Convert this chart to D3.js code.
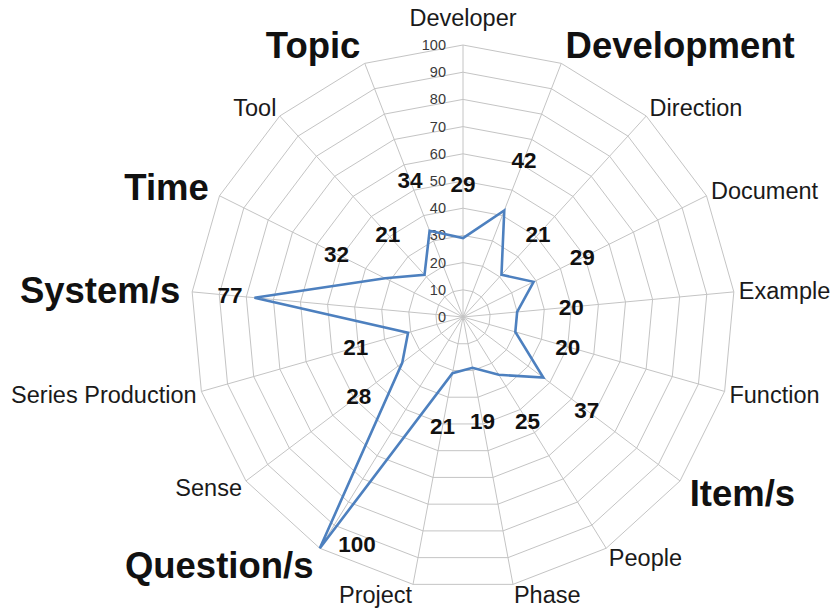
<!DOCTYPE html>
<html>
<head>
<meta charset="utf-8">
<script src="https://cdn.jsdelivr.net/npm/d3@7"></script>
<style>
  body { margin: 0; background: #fff; }
  svg { display: block; font-family: "Liberation Sans", Arial, sans-serif; }
  .grid { fill: none; stroke: #c4c4c4; stroke-width: 1; }
  .spoke { stroke: #c4c4c4; stroke-width: 1; }
  .tick-label { font-size: 14.5px; fill: #3a3a3a; }
  .cat { font-size: 23.5px; fill: #1a1a1a; }
  .cat.group { font-size: 36.5px; font-weight: bold; fill: #111; }
  .value-label { font-size: 22.5px; font-weight: bold; fill: #111; }
  .series { fill: none; stroke: #4d80bf; stroke-width: 2.6; stroke-linejoin: miter; }
</style>
</head>
<body>
<svg id="radar" width="836" height="609"></svg>
<script>
var categories = ["Developer", "Development", "Direction", "Document", "Example",
  "Function", "Item/s", "People", "Phase", "Project", "Question/s", "Sense",
  "Series Production", "System/s", "Time", "Tool", "Topic"];
var values = [29, 42, 21, 29, 20, 20, 37, 25, 19, 21, 100, 28, 21, 77, 32, 21, 34];
// categories written in the big bold type
var groupCategories = ["Development", "Item/s", "Question/s", "System/s", "Time", "Topic"];
var tickValues = [0, 10, 20, 30, 40, 50, 60, 70, 80, 90, 100];

(function() {
  var svg = d3.select("#radar"),
      cx = 463, cy = 317,
      radius = 272,
      n = categories.length;

  var r = d3.scaleLinear().domain([0, 100]).range([0, radius]);
  var angle = d3.scaleLinear().domain([0, n]).range([0, 2 * Math.PI]);

  var g = svg.append("g")
      .attr("transform", "translate(" + cx + "," + cy + ")");

  function px(i, v) { return Math.sin(angle(i)) * r(v); }
  function py(i, v) { return -Math.cos(angle(i)) * r(v); }

  // concentric polygons
  var ring = d3.lineRadial()
      .angle(function(d, i) { return angle(i); })
      .curve(d3.curveLinearClosed);

  g.selectAll(".grid")
    .data(tickValues.filter(function(t) { return t > 0; }))
    .enter().append("path")
      .attr("class", "grid")
      .attr("d", function(t) { return ring.radius(r(t))(categories); });

  g.selectAll(".spoke")
    .data(categories)
    .enter().append("line")
      .attr("class", "spoke")
      .attr("x1", 0).attr("y1", 0)
      .attr("x2", function(d, i) { return px(i, 100); })
      .attr("y2", function(d, i) { return py(i, 100); });

  // scale labels on the first axis
  g.selectAll(".tick-label")
    .data(tickValues)
    .enter().append("text")
      .attr("class", "tick-label")
      .attr("x", -17)
      .attr("y", function(t) { return -r(t); })
      .attr("dy", "0.35em")
      .attr("text-anchor", "end")
      .text(function(t) { return t; });

  // data series
  var line = d3.lineRadial()
      .angle(function(d, i) { return angle(i); })
      .radius(function(d) { return r(d); })
      .curve(d3.curveLinearClosed);

  g.append("path")
      .datum(values)
      .attr("class", "series")
      .attr("d", line);

  // value labels, set outwards from the vertex
  g.selectAll(".value-label")
    .data(values)
    .enter().append("text")
      .attr("class", "value-label")
      .attr("text-anchor", "middle")
      .attr("dy", "0.35em")
      .each(function(v, i) {
        var lv = v < 60 ? v + 20 : v + 9,
            a = angle(i);
        if (v >= 100) { lv = v - 8; a -= 0.117; } // nudge off the spike
        d3.select(this)
          .attr("x", Math.sin(a) * r(lv))
          .attr("y", -Math.cos(a) * r(lv));
      })
      .text(function(v) { return v; });

  // category labels
  g.selectAll(".cat")
    .data(categories)
    .enter().append("text")
      .attr("class", function(d) { return groupCategories.indexOf(d) >= 0 ? "cat group" : "cat"; })
      .attr("dy", "0.35em")
      .attr("text-anchor", function(d, i) {
        var s = Math.sin(angle(i));
        return Math.abs(s) < 0.01 ? "middle" : (s > 0 ? "start" : "end");
      })
      .each(function(d, i) {
        var big = groupCategories.indexOf(d) >= 0,
            s = Math.sin(angle(i)), c = Math.cos(angle(i)),
            kx = big ? 12 : 5, ky = big ? 20 : 11;
        if (i === 0) ky = 27; // clear the "100" tick label
        d3.select(this)
          .attr("x", px(i, 100) + s * kx)
          .attr("y", py(i, 100) - c * ky);
      })
      .text(function(d) { return d; });
})();
</script>
</body>
</html>
